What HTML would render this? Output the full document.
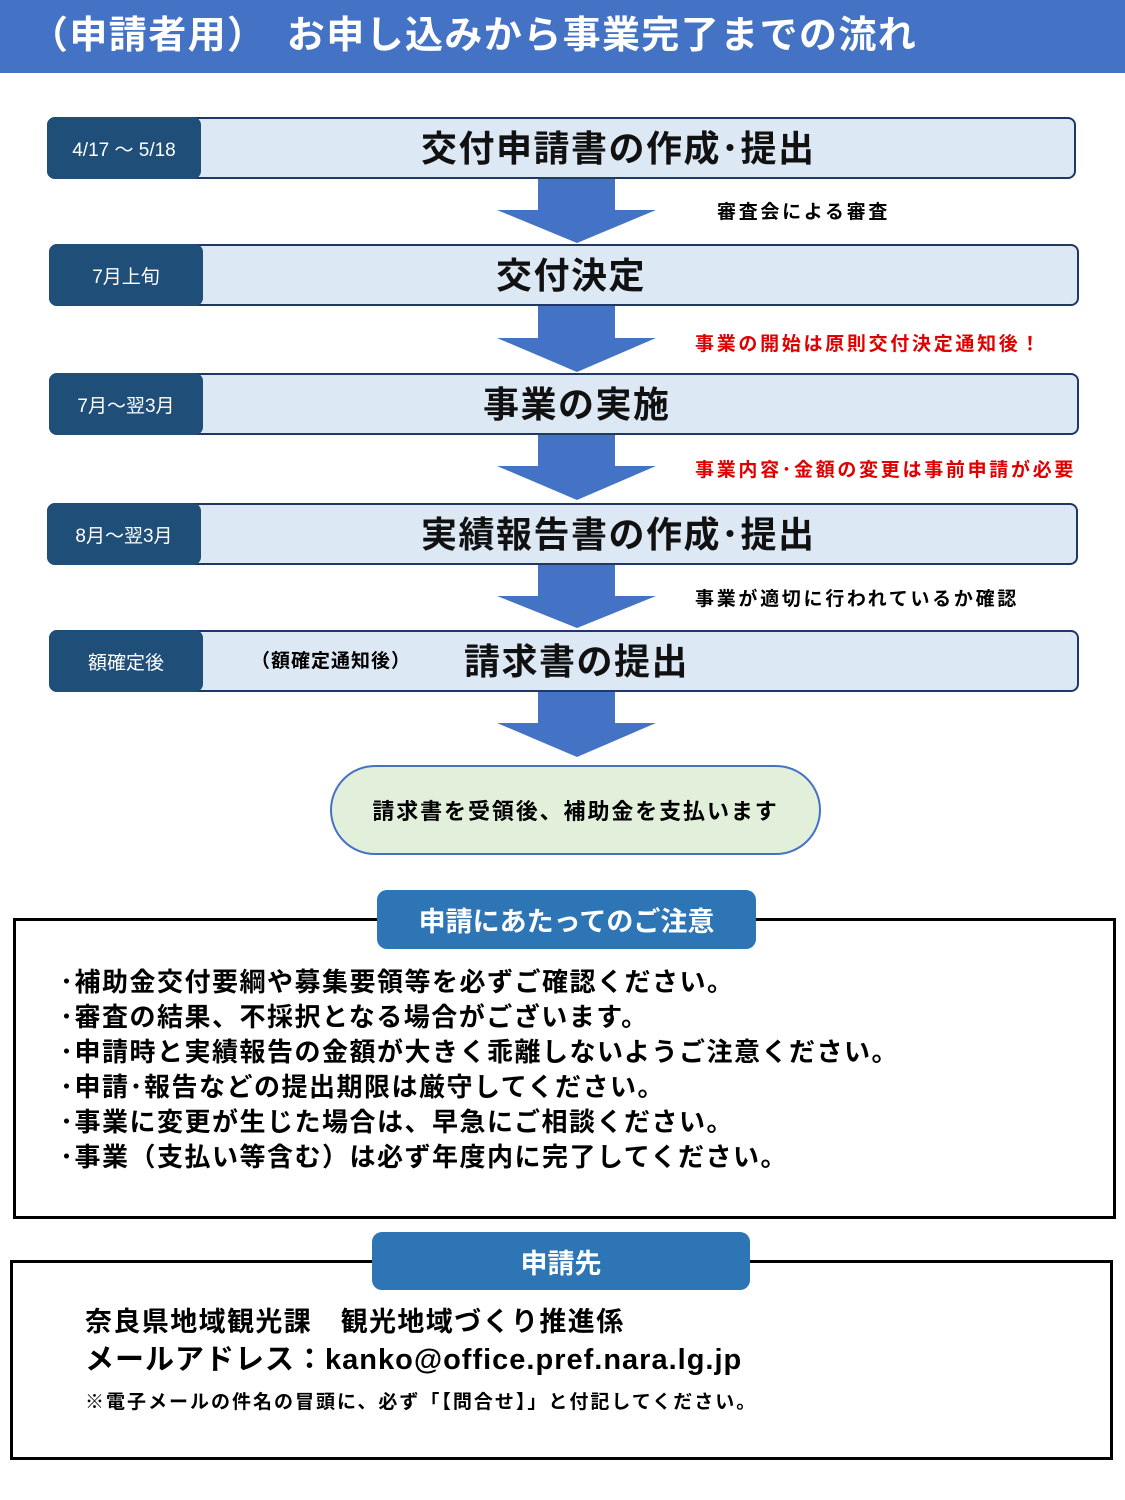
<!DOCTYPE html>
<html><head><meta charset="utf-8"><style>
body{margin:0;width:1125px;height:1500px;background:#fff;position:relative;overflow:hidden;font-family:"Liberation Sans","Noto Sans CJK JP",sans-serif;}
.a{position:absolute;}
.hdr{left:0;top:0;width:1125px;height:73px;background:#4472c4;color:#fff;font-size:38px;font-weight:bold;line-height:73px;padding-left:30px;box-sizing:border-box;white-space:pre;letter-spacing:1.4px;}
.row{position:absolute;background:#dde8f5;border:2px solid #1f3864;border-radius:8px;box-sizing:border-box;height:62px;}
.lab{position:absolute;left:-2px;top:-2px;height:62px;width:154px;background:#1f4e79;border-radius:8px;color:#fff;font-size:19px;display:flex;align-items:center;justify-content:center;}
.ttl{position:absolute;top:0;height:58px;line-height:60px;font-size:36px;font-weight:bold;color:#111;white-space:nowrap;letter-spacing:1.5px;}
.note{position:absolute;font-size:19px;font-weight:bold;white-space:nowrap;letter-spacing:2.7px;}
.red{color:#e00000;}
.box{position:absolute;border:3px solid #000;box-sizing:border-box;}
.tab{position:absolute;background:#2e75b6;border-radius:10px;color:#fff;font-size:27px;font-weight:bold;display:flex;align-items:center;justify-content:center;}
.ln{position:absolute;left:60px;font-size:26px;font-weight:bold;white-space:nowrap;line-height:35px;letter-spacing:1.5px;}
</style></head><body>
<div class="a hdr">（申請者用）　お申し込みから事業完了までの流れ</div>

<svg class="a" style="left:0;top:0" width="1125" height="770">
<g fill="#4472c4">
<polygon points="538,178 615,178 615,210 656,210 577,243 497,210 538,210"/>
<polygon points="538,305 615,305 615,338 656,338 577,372 497,338 538,338"/>
<polygon points="538,434 615,434 615,466 656,466 577,500 497,466 538,466"/>
<polygon points="538,564 615,564 615,596 656,596 577,628 497,596 538,596"/>
<polygon points="538,691 615,691 615,723 656,723 577,757 497,723 538,723"/>
</g></svg>

<div class="row" style="left:47px;top:117px;width:1029px;"><div class="lab">4/17 ～ 5/18</div><div class="ttl" style="left:372px;">交付申請書の作成･提出</div></div>
<div class="row" style="left:49px;top:244px;width:1030px;"><div class="lab">7月上旬</div><div class="ttl" style="left:445px;">交付決定</div></div>
<div class="row" style="left:49px;top:373px;width:1030px;"><div class="lab">7月～翌3月</div><div class="ttl" style="left:432px;">事業の実施</div></div>
<div class="row" style="left:47px;top:503px;width:1031px;"><div class="lab">8月～翌3月</div><div class="ttl" style="left:372px;">実績報告書の作成･提出</div></div>
<div class="row" style="left:49px;top:630px;width:1030px;"><div class="lab">額確定後</div><div style="position:absolute;left:200px;top:0;line-height:60px;font-size:19px;font-weight:bold;letter-spacing:1px;">（額確定通知後）</div><div class="ttl" style="left:413px;">請求書の提出</div></div>

<div class="note" style="left:717px;top:197px;">審査会による審査</div>
<div class="note red" style="left:695px;top:329px;">事業の開始は原則交付決定通知後！</div>
<div class="note red" style="left:695px;top:455px;">事業内容･金額の変更は事前申請が必要</div>
<div class="note" style="left:695px;top:584px;">事業が適切に行われているか確認</div>

<div class="a" style="left:330px;top:765px;width:491px;height:90px;box-sizing:border-box;background:#e2efda;border:2px solid #4472c4;border-radius:45px;display:flex;align-items:center;justify-content:center;font-size:22px;font-weight:bold;letter-spacing:1.9px;">請求書を受領後、補助金を支払います</div>

<div class="box" style="left:13px;top:918px;width:1103px;height:301px;"></div>
<div class="tab" style="left:377px;top:890px;width:379px;height:59px;">申請にあたってのご注意</div>
<div class="ln" style="top:965px;">･補助金交付要綱や募集要領等を必ずご確認ください。</div>
<div class="ln" style="top:1000px;">･審査の結果、不採択となる場合がございます。</div>
<div class="ln" style="top:1035px;">･申請時と実績報告の金額が大きく乖離しないようご注意ください。</div>
<div class="ln" style="top:1070px;">･申請･報告などの提出期限は厳守してください。</div>
<div class="ln" style="top:1105px;">･事業に変更が生じた場合は、早急にご相談ください。</div>
<div class="ln" style="top:1140px;">･事業（支払い等含む）は必ず年度内に完了してください。</div>

<div class="box" style="left:10px;top:1260px;width:1103px;height:200px;"></div>
<div class="tab" style="left:372px;top:1232px;width:378px;height:58px;">申請先</div>
<div class="ln" style="left:85px;top:1305px;font-size:27px;letter-spacing:1.4px;">奈良県地域観光課　観光地域づくり推進係</div>
<div class="ln" style="left:85px;top:1343px;font-size:29px;letter-spacing:1px;">メールアドレス：kanko@office.pref.nara.lg.jp</div>
<div class="ln" style="left:85px;top:1385px;font-size:19px;letter-spacing:2px;">※電子メールの件名の冒頭に、必ず「【問合せ】」と付記してください。</div>
</body></html>
